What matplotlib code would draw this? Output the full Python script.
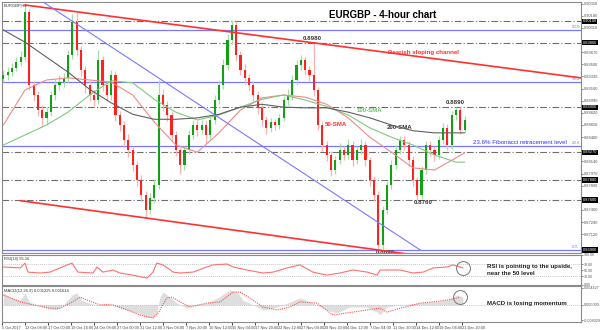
import numpy as np
import matplotlib.pyplot as plt
import matplotlib.transforms as mtransforms

plt.rcParams['font.family'] = ['Liberation Sans', 'DejaVu Sans']

# 12-hour candles (each one stands for three 4-hour bars)
first_open = 0.8930
closes = [0.8935, 0.8939, 0.8945, 0.8953, 0.8960, 0.9023, 0.8921, 0.8907, 0.8886, 0.8875,
          0.8883, 0.8907, 0.8921, 0.8925, 0.8931, 0.8963, 0.9009, 0.8970, 0.8942, 0.8921,
          0.8907, 0.8900, 0.8956, 0.8921, 0.8907, 0.8935, 0.8879, 0.8865, 0.8844, 0.8830,
          0.8809, 0.8788, 0.8767, 0.8746, 0.8763, 0.8781, 0.8907, 0.8893, 0.8879, 0.8851,
          0.8830, 0.8809, 0.8830, 0.8851, 0.8865, 0.8858, 0.8865, 0.8851, 0.8872, 0.8900,
          0.8921, 0.8949, 0.8984, 0.9005, 0.8963, 0.8942, 0.8931, 0.8921, 0.8907, 0.8889,
          0.8872, 0.8861, 0.8869, 0.8865, 0.8875, 0.8900, 0.8907, 0.8928, 0.8949, 0.8956,
          0.8942, 0.8935, 0.8914, 0.8865, 0.8837, 0.8823, 0.8802, 0.8816, 0.8830, 0.8823,
          0.8837, 0.8816, 0.8830, 0.8837, 0.8816, 0.8788, 0.8767, 0.8697, 0.8746, 0.8781,
          0.8809, 0.8830, 0.8844, 0.8837, 0.8816, 0.8788, 0.8767, 0.8802, 0.8837, 0.8830,
          0.8823, 0.8844, 0.8861, 0.8837, 0.8879, 0.8886, 0.8858, 0.8872]
highs = [0.8942, 0.8946, 0.8952, 0.8960, 0.8968, 0.9033, 0.9028, 0.8927, 0.8912, 0.8893,
         0.8890, 0.8913, 0.8930, 0.8935, 0.8938, 0.8970, 0.9020, 0.9022, 0.8975, 0.8948,
         0.8926, 0.8914, 0.8970, 0.8962, 0.8926, 0.8942, 0.8940, 0.8885, 0.8870, 0.8852,
         0.8836, 0.8815, 0.8795, 0.8772, 0.8770, 0.8790, 0.8928, 0.8915, 0.8898, 0.8884,
         0.8857, 0.8835, 0.8836, 0.8858, 0.8872, 0.8870, 0.8872, 0.8870, 0.8878, 0.8907,
         0.8928, 0.8957, 0.8992, 0.9012, 0.9010, 0.8968, 0.8950, 0.8937, 0.8926, 0.8912,
         0.8894, 0.8878, 0.8875, 0.8874, 0.8880, 0.8906, 0.8915, 0.8935, 0.8956, 0.8963,
         0.8960, 0.8948, 0.8980, 0.8918, 0.8870, 0.8843, 0.8828, 0.8822, 0.8840, 0.8836,
         0.8845, 0.8842, 0.8836, 0.8846, 0.8842, 0.8820, 0.8793, 0.8772, 0.8752, 0.8787,
         0.8816, 0.8837, 0.8850, 0.8850, 0.8842, 0.8822, 0.8792, 0.8808, 0.8843, 0.8842,
         0.8836, 0.8850, 0.8868, 0.8866, 0.8885, 0.8890, 0.8890, 0.8878]
lows = [0.8925, 0.8928, 0.8933, 0.8940, 0.8948, 0.8955, 0.8914, 0.8898, 0.8878, 0.8862,
        0.8865, 0.8877, 0.8900, 0.8914, 0.8918, 0.8925, 0.8958, 0.8962, 0.8933, 0.8910,
        0.8898, 0.8892, 0.8895, 0.8912, 0.8898, 0.8900, 0.8870, 0.8856, 0.8835, 0.8820,
        0.8800, 0.8780, 0.8758, 0.8735, 0.8740, 0.8756, 0.8776, 0.8885, 0.8870, 0.8842,
        0.8822, 0.8796, 0.8802, 0.8824, 0.8845, 0.8850, 0.8852, 0.8840, 0.8846, 0.8866,
        0.8894, 0.8915, 0.8942, 0.8978, 0.8955, 0.8935, 0.8922, 0.8913, 0.8898, 0.8880,
        0.8864, 0.8853, 0.8855, 0.8858, 0.8860, 0.8870, 0.8893, 0.8900, 0.8922, 0.8942,
        0.8935, 0.8926, 0.8905, 0.8858, 0.8828, 0.8815, 0.8793, 0.8796, 0.8810, 0.8816,
        0.8817, 0.8808, 0.8810, 0.8824, 0.8808, 0.8780, 0.8758, 0.8690, 0.8692, 0.8740,
        0.8775, 0.8803, 0.8824, 0.8830, 0.8808, 0.8780, 0.8760, 0.8762, 0.8796, 0.8822,
        0.8815, 0.8818, 0.8838, 0.8830, 0.8832, 0.8872, 0.8852, 0.8855]

# moving averages, read every 5 candles
sma_idx = [0, 5, 10, 15, 20, 25, 30, 35, 40, 45, 50, 55, 60, 65, 70, 75, 80, 85, 90, 95, 100, 105, 107]
sma50 = [0.8865, 0.8914, 0.8928, 0.8931, 0.8928, 0.8925, 0.8907, 0.8869, 0.8837, 0.8827, 0.8854, 0.8886,
         0.8903, 0.8907, 0.8904, 0.8894, 0.8875, 0.8848, 0.8827, 0.8805, 0.8802, 0.8819, 0.8826]
sma100 = [0.8837, 0.8851, 0.8865, 0.8883, 0.8907, 0.8927, 0.8924, 0.8901, 0.8883, 0.8872, 0.8879, 0.8890,
          0.8901, 0.8907, 0.8900, 0.8891, 0.8879, 0.8861, 0.8848, 0.8837, 0.8823, 0.8813, 0.8813]
sma200 = [0.8998, 0.8981, 0.8960, 0.8939, 0.8915, 0.8896, 0.8880, 0.8873, 0.8873, 0.8875, 0.8880, 0.8890,
          0.8894, 0.8890, 0.8889, 0.8889, 0.8883, 0.8875, 0.8865, 0.8857, 0.8854, 0.8854, 0.8854]

fib_high = 0.9306
fib_low = 0.8690
fib_ratios = [0.0, 0.236, 0.382, 0.5]
levels = [0.9010, 0.8980, 0.8890, 0.8827, 0.8788, 0.8760]

# trend line anchors: candle index, price
upper_x, upper_y = [5, 72], [0.9033, 0.8980]
lower_x, lower_y = [4, 87], [0.8759, 0.8690]
blue_x, blue_y = [8.5, 96.7], [0.9040, 0.8690]

rsi_idx = [0, 3.9, 5, 5.7, 8.5, 10.8, 14.8, 15.9, 17.3, 20.8, 21.7, 23.1, 25.4, 27, 30, 33.3, 34.7,
           35.6, 37, 39.4, 41, 44, 47.2, 48.6, 51.9, 53.3, 56.5, 60.2, 62.6, 65.8, 68.8, 71.8, 75,
           78.1, 81.1, 84.4, 86.7, 87.4, 92, 95, 97.4, 99.7, 102.9, 104.3, 106, 106.6]
rsi_val = [60, 57, 73, 43, 40, 43, 67, 73, 43, 40, 60, 43, 50, 40, 33, 23, 43,
           73, 67, 43, 40, 43, 60, 67, 70, 60, 50, 40, 43, 57, 67, 43, 33,
           40, 50, 43, 33, 50, 50, 40, 43, 57, 60, 67, 60, 57]

macd_idx = [0, 1.5, 3.9, 5, 6, 7.8, 10, 12.4, 14.3, 15.9, 17, 18.2, 20, 21.7, 24, 26.4, 28.7, 31,
            33.3, 34.7, 35.6, 36.3, 37, 38.7, 40.3, 42.6, 44, 47.2, 49.6, 52.6, 54.2, 55.6, 58,
            60.2, 62.6, 65.8, 68.8, 71.8, 75, 77.4, 80.4, 84.4, 86.7, 87.4, 89, 92, 96, 99.7,
            102.9, 105.2, 106.6]
macd_val = [0.0028, 0.0018, 0.0011, 0.0028, 0.0007, 0.0, -0.0008, -0.0012, 0.0004, 0.0023, 0.0028,
            0.0011, 0.0004, 0.0, 0.0004, -0.0005, -0.0012, -0.0019, -0.0029, -0.0031, -0.0019,
            0.0018, 0.0030, 0.0018, 0.0004, -0.0008, 0.0, 0.0004, 0.0016, 0.0035, 0.0030, 0.0011,
            0.0, -0.0012, -0.0008, 0.0004, 0.0016, 0.0004, -0.0012, -0.0019, -0.0005, -0.0005,
            -0.0017, -0.0023, -0.0005, 0.0, 0.0004, 0.0007, 0.0011, 0.0023, 0.0018]
sig_idx = [0, 3.9, 6.9, 10.8, 13.1, 15.5, 17.8, 19.4, 22.4, 25.4, 28.7, 31.7, 34.7, 35.9, 37.9,
           39.1, 41, 43.3, 47.2, 50.3, 53.3, 54.9, 57.2, 60.2, 63.5, 66.5, 68.8, 72.8, 76.5,
           79.7, 84.4, 87.4, 89, 92, 96.7, 99.7, 102.9, 106]
sig_val = [0.0023, 0.0007, 0.0, -0.0008, -0.0008, 0.0004, 0.0018, 0.0011, 0.0, 0.0, -0.0012,
           -0.0024, -0.0031, -0.0019, 0.0016, 0.0018, 0.0007, -0.0005, 0.0004, 0.0007, 0.0030,
           0.0030, 0.0016, -0.0005, -0.0012, -0.0005, 0.0007, 0.0004, -0.0024, -0.0019, -0.0012,
           -0.0008, -0.0017, -0.0008, 0.0004, 0.0007, 0.0011, 0.0018]

date_labels = ["5 Oct 2017", "12 Oct 08:00", "17 Oct 00:00", "19 Oct 16:00", "24 Oct 08:00",
               "27 Oct 00:00", "31 Oct 12:00", "3 Nov 04:00", "7 Nov 20:00", "10 Nov 12:00",
               "15 Nov 04:00", "17 Nov 20:00", "22 Nov 12:00", "27 Nov 04:00", "29 Nov 20:00",
               "4 Dec 12:00", "7 Dec 04:00", "11 Dec 20:00", "14 Dec 12:00", "19 Dec 04:00",
               "21 Dec 20:00"]

bull, bear = '#14a014', '#ff2020'
bull_w, bear_w = '#a8dca8', '#ffb0b0'
fib_col = '#7878ff'
frame = '#8a8a8a'
XMIN, XMAX = -0.33, 134.0

fig = plt.figure(figsize=(6, 3.3), dpi=100)
ax = fig.add_axes([2 / 600, 1 - 253 / 330, 579 / 600, 251 / 330])
ax_rsi = fig.add_axes([2 / 600, 1 - 285 / 330, 579 / 600, 30 / 330])
ax_macd = fig.add_axes([2 / 600, 1 - 322 / 330, 579 / 600, 36 / 330])

for a in (ax, ax_rsi, ax_macd):
    a.set_xlim(XMIN, XMAX)
    for s in a.spines.values():
        s.set_color(frame)
        s.set_linewidth(0.8)
    a.yaxis.tick_right()
    a.tick_params(axis='y', labelsize=2.9, length=1.5, width=0.5, pad=0.5, colors='#555555')
    a.tick_params(axis='x', length=0)
    a.set_xticks([])

# ---- main panel ----
ax.set_ylim(0.86858, 0.90372)
boxed = levels + [fib_low]
yt = [t for t in np.arange(0.86950, 0.9036, 0.0017) if min(abs(t - b) for b in boxed) > 0.0006]
ax.set_yticks(yt)
ax.yaxis.set_major_formatter(plt.FormatStrFormatter('%.5f'))

idx = np.arange(len(closes))
opens = np.r_[first_open, closes[:-1]]
c = np.array(closes)
up = c >= opens

for lv in levels:
    ax.axhline(lv, color='#6e6e6e', lw=0.8, ls=(0, (6, 2, 1, 2)), zorder=1)
trans = mtransforms.blended_transform_factory(ax.transAxes, ax.transData)
for lv in boxed:
    ax.text(1.003, lv, f"{lv:.5f}", transform=trans, fontsize=2.9, color='white', va='center',
            ha='left', bbox=dict(fc='black', ec='none', pad=0.4), clip_on=False, zorder=10)

for r in fib_ratios:
    lv = fib_low + r * (fib_high - fib_low)
    ax.axhline(lv, color=fib_col, lw=0.9, zorder=1)
    ax.text(131.8, lv + 0.0001, f"{r * 100:.1f}", fontsize=3.2, color=fib_col, ha='left', va='bottom')

ax.vlines(idx[up], np.array(lows)[up], np.array(highs)[up], color=bull_w, lw=0.9, zorder=2)
ax.vlines(idx[~up], np.array(lows)[~up], np.array(highs)[~up], color=bear_w, lw=0.9, zorder=2)
ax.bar(idx[up], (c - opens)[up], bottom=opens[up], width=0.5, color=bull, zorder=3)
ax.bar(idx[~up], (c - opens)[~up], bottom=opens[~up], width=0.5, color=bear, zorder=3)

ax.plot(sma_idx, sma50, color='#f28a8a', lw=0.8, zorder=4)
ax.plot(sma_idx, sma100, color='#80c880', lw=0.8, zorder=4)
ax.plot(sma_idx, sma200, color='#606060', lw=0.8, zorder=4)

k = np.polyfit(upper_x, upper_y, 1)
xs = np.array([upper_x[0], XMAX])
ax.plot(xs, np.polyval(k, xs), color='#ff3030', lw=1.2, zorder=5)
k = np.polyfit(lower_x, lower_y, 1)
xs = np.array([lower_x[0], 100])
ax.plot(xs, np.polyval(k, xs), color='#ff3030', lw=1.2, zorder=5)
ax.plot(blue_x, blue_y, color=fib_col, lw=0.8, zorder=5)

bold = dict(fontweight='bold', fontsize=4.4)
ax.text(0.003, 0.995, "EURGBP,H4", transform=ax.transAxes, fontsize=3.0, color='#333333', va='top')
ax.text(0.657, 0.95, "EURGBP - 4-hour chart", transform=ax.transAxes,
        fontsize=7, fontweight='bold', ha='center', va='center')
ax.text(71.6, 0.8982, "0.8980", ha='center', va='bottom', color='#333333', **bold)
ax.text(89.2, 0.8966, "Bearish sloping channel", ha='left', va='center', color='#ff3030', **bold)
ax.text(104.8, 0.8896, "0.8890", ha='center', va='center', color='#333333', **bold)
ax.text(97.4, 0.8756, "0.8760", ha='center', va='center', color='#333333', **bold)
ax.text(88.5, 0.8687, "0.8690", ha='center', va='center', color='#333333', clip_on=True, **bold)
ax.text(77.2, 0.8865, "50-SMA", ha='center', va='center', color='#ff3030', **bold)
ax.text(85.0, 0.8886, "100-SMA", ha='center', va='center', color='#70c070', **bold)
ax.text(92.0, 0.8862, "200-SMA", ha='center', va='center', color='#333333', **bold)
ax.text(109.0, 0.8841, "23.6% Fibonacci retracement level", ha='left', va='center',
        color='#3030ff', fontsize=4.4)

# ---- RSI panel ----
ax_rsi.set_ylim(0, 100)
ax_rsi.set_yticks([100, 70, 50, 30, 0])
ax_rsi.yaxis.set_major_formatter(plt.FormatStrFormatter('%.2f'))
ax_rsi.tick_params(axis='y', labelsize=2.6)
for lv in (70, 30):
    ax_rsi.axhline(lv, color='#b0b0b0', lw=0.6, ls=(0, (1, 1.5)))
ax_rsi.plot(rsi_idx, rsi_val, color='#ff7070', lw=0.8)
ax_rsi.plot(rsi_idx[-1], rsi_val[-1], 'o', ms=10, mfc='none', mec='#777777', mew=0.7)
ax_rsi.text(0.003, 0.93, "RSI(14) 55.16", transform=ax_rsi.transAxes, fontsize=3.0,
            color='#333333', va='top')
ax_rsi.text(112.3, 50, "RSI is pointing to the upside,\nnear the 50 level", ha='left',
            va='center', color='#222222', linespacing=1.4, **bold)

# ---- MACD panel ----
ax_macd.set_ylim(-0.004029, 0.004427)
ax_macd.set_yticks([0.0040, 0.0, -0.0036])
ax_macd.set_yticklabels(["0.004427", "0.000000", "-0.004029"])
ax_macd.tick_params(axis='y', labelsize=2.7)
ax_macd.axhline(0, color='#b0b0b0', lw=0.6, ls=(0, (1, 1.5)))
ax_macd.fill_between(macd_idx, 0, macd_val, color='#dedede', lw=0)
ax_macd.plot(sig_idx, sig_val, color='#ff5050', lw=0.8, ls=(0, (1, 1)))
ax_macd.plot(sig_idx[-1], sig_val[-1], 'o', ms=10, mfc='none', mec='#777777', mew=0.7)
ax_macd.text(0.003, 0.93, "MACD(12,26,9) 0.001225 0.001614", transform=ax_macd.transAxes,
             fontsize=3.0, color='#333333', va='top')
ax_macd.text(112.3, 0.0004, "MACD is losing momentum", ha='left', va='center',
             color='#222222', **bold)

ticks = [(16 * k - 1) / 3 for k in range(len(date_labels))]
ax_macd.set_xticks(ticks)
ax_macd.set_xticklabels(date_labels, fontsize=2.8, ha='left', color='#444444')
ax_macd.tick_params(axis='x', length=2, width=0.5, pad=1)

fig.savefig('out.png', dpi=100)
